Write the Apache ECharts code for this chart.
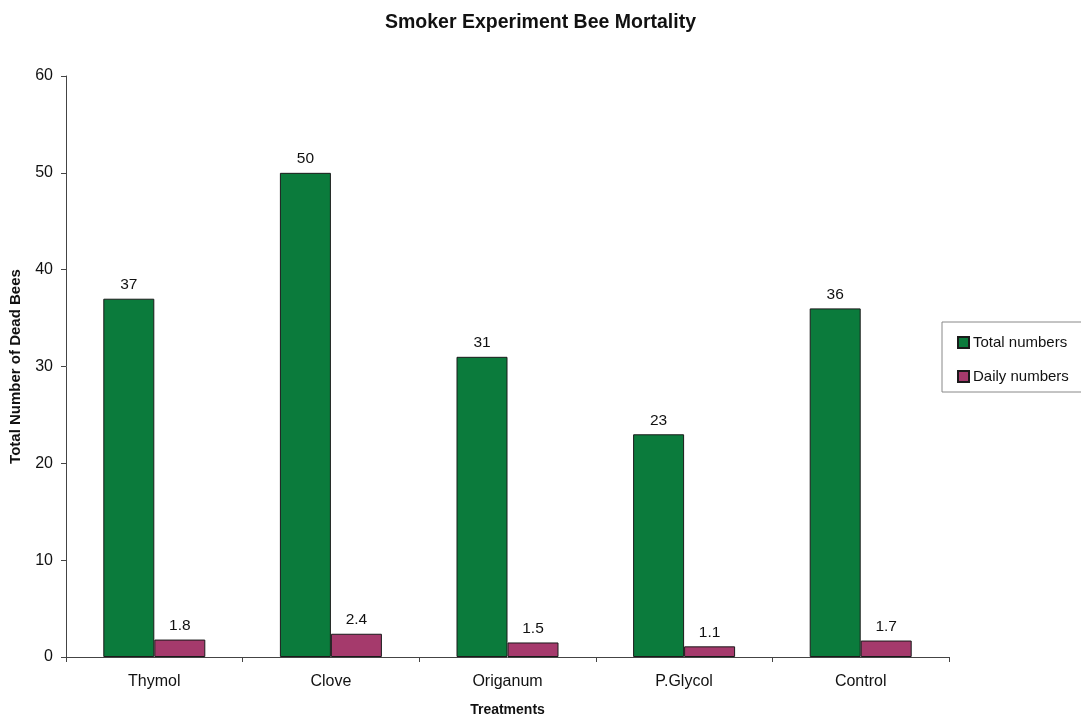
<!DOCTYPE html>
<html>
<head>
<meta charset="utf-8">
<script src="https://cdn.jsdelivr.net/npm/echarts@6/dist/echarts.min.js"></script>
<style>
  html, body { margin: 0; padding: 0; background: #fff; }
  #chart { width: 1081px; height: 719px; }
</style>
</head>
<body>
<div id="chart"></div>
<script>
// Bee mortality per treatment in the smoker experiment
const treatments = ['Thymol', 'Clove', 'Origanum', 'P.Glycol', 'Control'];
const totalNumbers = [37, 50, 31, 23, 36];
const dailyNumbers = [1.8, 2.4, 1.5, 1.1, 1.7];
const yTicks = [0, 10, 20, 30, 40, 50, 60];

const FONT = '"Liberation Sans", Arial, sans-serif';
const chart = echarts.init(document.getElementById('chart'), null, { renderer: 'canvas' });

const labelStyle = {
  show: true,
  position: 'top',
  distance: 6,
  color: '#111',
  fontFamily: FONT,
  fontSize: 15.5
};

chart.setOption({
  animation: false,
  backgroundColor: '#ffffff',
  title: {
    text: 'Smoker Experiment Bee Mortality',
    left: 'center',
    top: 8,
    textStyle: { fontFamily: FONT, fontSize: 19.5, fontWeight: 'bold', color: '#111' }
  },
  legend: {
    orient: 'vertical',
    left: 942,
    top: 322,
    padding: [13, 20, 8, 15],
    itemGap: 19,
    itemWidth: 11,
    itemHeight: 11,
    borderColor: '#888',
    borderWidth: 1,
    backgroundColor: '#fff',
    textStyle: { fontFamily: FONT, fontSize: 15, color: '#111', padding: [0, 0, 0, -1] },
    data: [
      { name: 'Total numbers', icon: 'rect' },
      { name: 'Daily numbers', icon: 'rect' }
    ]
  },
  grid: { left: 66, right: 132, top: 76, bottom: 62, outerBoundsMode: 'none' },
  xAxis: {
    type: 'category',
    data: treatments,
    name: 'Treatments',
    nameLocation: 'middle',
    nameGap: 46,
    nameTextStyle: { fontFamily: FONT, fontSize: 14, fontWeight: 'bold', color: '#111' },
    axisLine: { lineStyle: { color: '#444', width: 1 } },
    axisTick: { show: true, alignWithLabel: false, length: 5, lineStyle: { color: '#444' } },
    axisLabel: { fontFamily: FONT, fontSize: 16, color: '#111', margin: 17 }
  },
  yAxis: {
    type: 'value',
    min: yTicks[0],
    max: yTicks[yTicks.length - 1],
    interval: 10,
    name: 'Total Number of Dead Bees',
    nameLocation: 'middle',
    nameGap: 43,
    nameTextStyle: { fontFamily: FONT, fontSize: 15, fontWeight: 'bold', color: '#111' },
    axisLine: { show: true, lineStyle: { color: '#444', width: 1 } },
    axisTick: { show: true, length: 5, lineStyle: { color: '#444' } },
    axisLabel: { fontFamily: FONT, fontSize: 16, color: '#111', margin: 13 },
    splitLine: { show: false }
  },
  series: [
    {
      name: 'Total numbers',
      type: 'bar',
      data: totalNumbers,
      barWidth: 51,
      barGap: '0%',
      itemStyle: { color: '#0b7b3c', borderColor: '#1a1a1a', borderWidth: 1 },
      label: labelStyle
    },
    {
      name: 'Daily numbers',
      type: 'bar',
      data: dailyNumbers,
      barWidth: 51,
      barGap: '0%',
      itemStyle: { color: '#a53a6c', borderColor: '#1a1a1a', borderWidth: 1 },
      label: labelStyle
    }
  ]
});
</script>
</body>
</html>
